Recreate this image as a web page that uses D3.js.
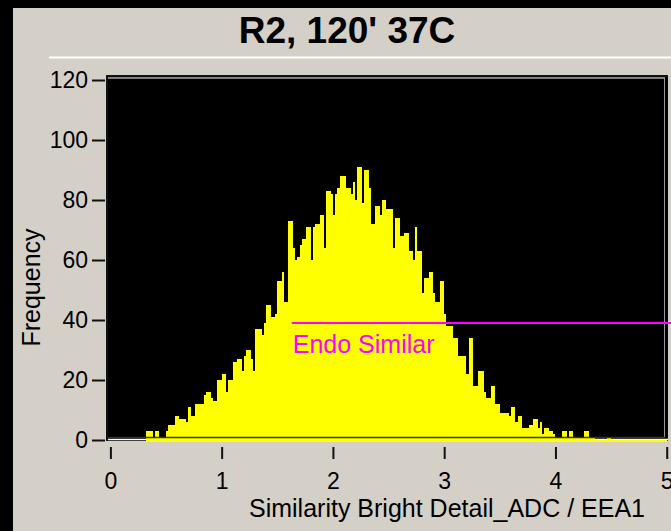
<!DOCTYPE html>
<html>
<head>
<meta charset="utf-8">
<script src="https://cdn.jsdelivr.net/npm/d3@7"></script>
<style>
  html, body { margin: 0; padding: 0; background: #000; }
  svg { display: block; }
</style>
</head>
<body>
<div id="chart"></div>
<script>
// histogram: bins of 0.02 starting at 0.32
const binStart = 0.32
const binWidth = 0.02
const counts = [
  3, 3, 3, 1, 3, 3, 1, 1, 1, 3,
  5, 5, 5, 8, 8, 7, 7, 7, 6, 11,
  8, 8, 12, 12, 12, 12, 15, 16, 16, 14,
  13, 13, 20, 20, 22, 22, 16, 20, 20, 26,
  26, 27, 27, 23, 28, 30, 30, 27, 23, 37,
  37, 37, 35, 39, 45, 45, 41, 41, 42, 53,
  53, 56, 46, 46, 73, 73, 64, 60, 61, 65,
  67, 67, 71, 71, 60, 71, 72, 72, 75, 75,
  64, 83, 83, 82, 75, 82, 84, 88, 88, 88,
  84, 84, 82, 86, 80, 91, 91, 79, 90, 90,
  84, 72, 72, 78, 78, 75, 80, 80, 77, 77,
  77, 64, 74, 74, 68, 68, 69, 69, 63, 63,
  60, 71, 63, 63, 49, 54, 54, 56, 56, 49,
  46, 46, 53, 53, 42, 38, 38, 38, 34, 34,
  28, 28, 28, 28, 22, 34, 34, 18, 18, 23,
  23, 23, 16, 14, 14, 18, 18, 12, 12, 9,
  9, 9, 9, 8, 11, 11, 6, 8, 8, 4,
  4, 4, 5, 5, 7, 7, 4, 6, 2, 4,
  4, 3, 3, 2, 1, 1, 1, 3, 3, 1,
  3, 3, 1, 1, 1, 1, 1, 3, 3, 1,
  1, 1, 0, 0, 0, 0, 0, 1, 1, 0,
  0, 0, 0, 0, 0, 0, 0, 0, 0, 0,
  0, 0, 0, 0, 0, 0, 0, 0, 0, 0,
  0, 0, 0, 0
]
const yTicks = [0, 20, 40, 60, 80, 100, 120]
const xTicks = [0, 1, 2, 3, 4, 5]
const thresholdValue = 39      // "Endo Similar" level
const thresholdFrom = 1.63
const thresholdLabel = "Endo Similar"
const title = "R2, 120' 37C"
const xLabel = "Similarity Bright Detail_ADC / EEA1"
const yLabel = "Frequency"

const width = 671
const height = 531
const font = "'Liberation Sans', Arial, sans-serif"

const svg = d3.select("#chart")
  .append("svg")
    .attr("width", width)
    .attr("height", height)
    .style("font-family", font)

// window background (black strip left / top)
svg.append("rect").attr("width", width).attr("height", height).attr("fill", "#000")
svg.append("rect").attr("x", 13).attr("y", 8)
  .attr("width", width - 13).attr("height", height - 8)
  .attr("fill", "#d4d0c8")

// title + separator
svg.append("text")
  .attr("x", 347).attr("y", 43)
  .attr("text-anchor", "middle")
  .style("font-size", "37px")
  .style("font-weight", "bold")
  .text(title)
svg.append("line")
  .attr("x1", 49).attr("x2", width)
  .attr("y1", 57.5).attr("y2", 57.5)
  .attr("stroke", "#fff").attr("stroke-width", 2)

const x = d3.scaleLinear().domain([0, 5]).range([110.4, 666.7])
const y = d3.scaleLinear().domain([0, 120]).range([440, 80])

// plot area
svg.append("rect")
  .attr("x", 107).attr("y", 76)
  .attr("width", 561).attr("height", 365)
  .attr("fill", "#000")

// white baseline under the bars
svg.append("line")
  .attr("x1", 108).attr("x2", 668)
  .attr("y1", 439.5).attr("y2", 439.5)
  .attr("stroke", "#fff").attr("stroke-width", 1.5)

// bars
svg.append("g")
  .selectAll("rect")
  .data(counts)
  .join("rect")
    .attr("x", (d, i) => x(binStart + i * binWidth))
    .attr("width", (d, i) => x(binStart + (i + 1) * binWidth) - x(binStart + i * binWidth))
    .attr("y", d => y(d))
    .attr("height", d => y(0) + 1.5 - y(d))
    .attr("fill", "#ffff00")
    .attr("shape-rendering", "crispEdges")

// inner frame (white top, grey right/bottom)
svg.append("line").attr("x1", 108).attr("x2", 665).attr("y1", 78).attr("y2", 78)
  .attr("stroke", "#fff").attr("stroke-width", 1)
svg.append("line").attr("x1", 664.5).attr("x2", 664.5).attr("y1", 78).attr("y2", 437.5)
  .attr("stroke", "#9a9a9a").attr("stroke-width", 1)
svg.append("line").attr("x1", 108).attr("x2", 665).attr("y1", 437.5).attr("y2", 437.5)
  .attr("stroke", "#333").attr("stroke-width", 1.5)

// outer frame: top + left axis
svg.append("line").attr("x1", 106).attr("x2", 668).attr("y1", 76).attr("y2", 76)
  .attr("stroke", "#111").attr("stroke-width", 2)
svg.append("line").attr("x1", 107).attr("x2", 107).attr("y1", 75).attr("y2", 441)
  .attr("stroke", "#111").attr("stroke-width", 2)

// threshold line and label
svg.append("line")
  .attr("x1", x(thresholdFrom)).attr("x2", width)
  .attr("y1", y(thresholdValue)).attr("y2", y(thresholdValue))
  .attr("stroke", "#ff00ff").attr("stroke-width", 2)
svg.append("text")
  .attr("x", x(thresholdFrom) + 1)
  .attr("y", y(thresholdValue) + 30)
  .attr("fill", "#ff00ff")
  .style("font-size", "25px")
  .text(thresholdLabel)

// axes
svg.append("g")
  .attr("transform", "translate(105,0)")
  .call(d3.axisLeft(y).tickValues(yTicks).tickSize(13).tickPadding(4).tickFormat(d3.format("d")))
  .call(g => g.select(".domain").remove())
  .call(g => g.selectAll("line").attr("stroke", "#111").attr("stroke-width", 2))
  .call(g => g.selectAll("text").attr("fill", "#000"))
  .attr("font-size", 23).attr("font-family", font)

svg.append("g")
  .attr("transform", "translate(0,447)")
  .call(d3.axisBottom(x).tickValues(xTicks).tickSize(12).tickPadding(14).tickFormat(d3.format("d")))
  .call(g => g.select(".domain").remove())
  .call(g => g.selectAll("line").attr("stroke", "#111").attr("stroke-width", 2))
  .call(g => g.selectAll("text").attr("fill", "#000"))
  .attr("font-size", 23).attr("font-family", font)

// axis titles
svg.append("text")
  .attr("x", 447).attr("y", 517)
  .attr("text-anchor", "middle")
  .style("font-size", "25px")
  .text(xLabel)
svg.append("text")
  .attr("transform", "translate(39.5,287.5) rotate(-90)")
  .attr("text-anchor", "middle")
  .style("font-size", "25px")
  .text(yLabel)
</script>
</body>
</html>
